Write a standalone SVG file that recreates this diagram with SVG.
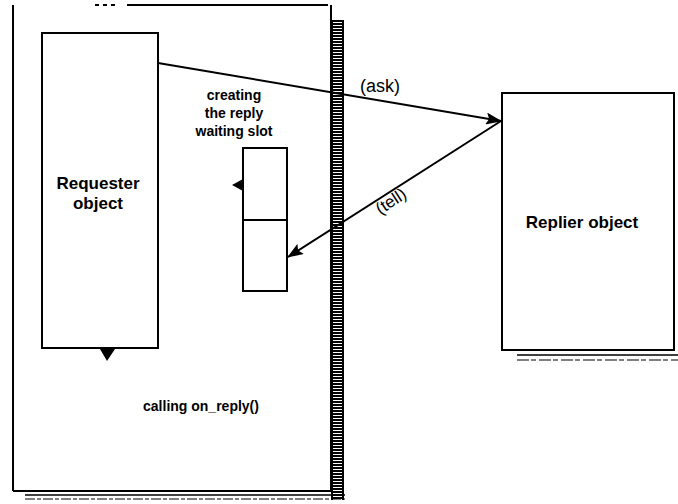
<svg xmlns="http://www.w3.org/2000/svg" width="678" height="504" viewBox="0 0 678 504">
<style>
.ln{stroke:#000;stroke-width:2;fill:none}
.box{stroke:#000;stroke-width:2;fill:#fff}
.t{font-family:"Liberation Sans",Arial,sans-serif;font-weight:bold;fill:#000;text-anchor:middle}
.lbl{font-family:"Liberation Sans",Arial,sans-serif;fill:#000;text-anchor:middle}
</style>
<defs>
<marker id="ah" viewBox="0 0 16 12" refX="15" refY="6" markerWidth="16" markerHeight="12" markerUnits="userSpaceOnUse" orient="auto">
<path d="M0,0 L16,6 L0,12 L3,6 z" fill="#000"/>
</marker>
<pattern id="hatch" x="331" y="20" width="14" height="3" patternUnits="userSpaceOnUse">
<rect x="0" y="0" width="13" height="2" fill="#000"/>
<rect x="0" y="0" width="2" height="3" fill="#000"/>
<rect x="11" y="0" width="2" height="3" fill="#000"/>
</pattern>
</defs>
<rect width="678" height="504" fill="#fff"/>
<g id="requester-frame">
<line class="ln" x1="13" y1="5" x2="13" y2="491"/>
<line class="ln" x1="127" y1="5" x2="328" y2="5"/>
<line class="ln" x1="95" y1="5" x2="115" y2="5" stroke-dasharray="4 4"/>
<line class="ln" x1="331" y1="5" x2="331" y2="492"/>
<line class="ln" x1="13" y1="491" x2="331" y2="491"/>
<rect x="331" y="20" width="14" height="480" fill="url(#hatch)"/>
<line x1="25" y1="495" x2="345" y2="495" stroke="#000" stroke-width="1.5"/>
<line x1="25" y1="499" x2="345" y2="499" stroke="#000" stroke-width="1.2" stroke-dasharray="10 2 4 2"/>
</g>
<g id="requester">
<rect class="box" x="42" y="33" width="116" height="315"/>
<text class="t" font-size="17" x="98" y="189">Requester</text>
<text class="t" font-size="17" x="98" y="209">object</text>
<path d="M100,349 L115,349 L107,361 z" fill="#000"/>
</g>
<g id="slot">
<rect class="box" x="243" y="148" width="44" height="143"/>
<line class="ln" x1="243" y1="220" x2="287" y2="220"/>
<path d="M243,179 L243,191 L232,185 z" fill="#000"/>
<text class="t" font-size="14" x="234" y="100">creating</text>
<text class="t" font-size="14" x="234" y="118">the reply</text>
<text class="t" font-size="14" x="234" y="136">waiting slot</text>
</g>
<g id="replier">
<rect class="box" x="502" y="93" width="172" height="257"/>
<text class="t" font-size="17" x="582" y="228">Replier object</text>
<line x1="517" y1="355" x2="678" y2="355" stroke="#000" stroke-width="1.5"/>
<line x1="517" y1="360" x2="678" y2="360" stroke="#000" stroke-width="1.2" stroke-dasharray="12 2 5 3"/>
</g>
<g id="connectors">
<line class="ln" x1="158" y1="63" x2="501" y2="121" marker-end="url(#ah)"/>
<line class="ln" x1="501" y1="121" x2="288" y2="257" marker-end="url(#ah)"/>
<text class="lbl" font-size="18" x="380" y="92">(ask)</text>
<text class="lbl" font-size="17" x="394" y="206" transform="rotate(-33 394 206)">(tell)</text>
<text class="t" font-size="14" x="201" y="411">calling on_reply()</text>
</g>
</svg>
